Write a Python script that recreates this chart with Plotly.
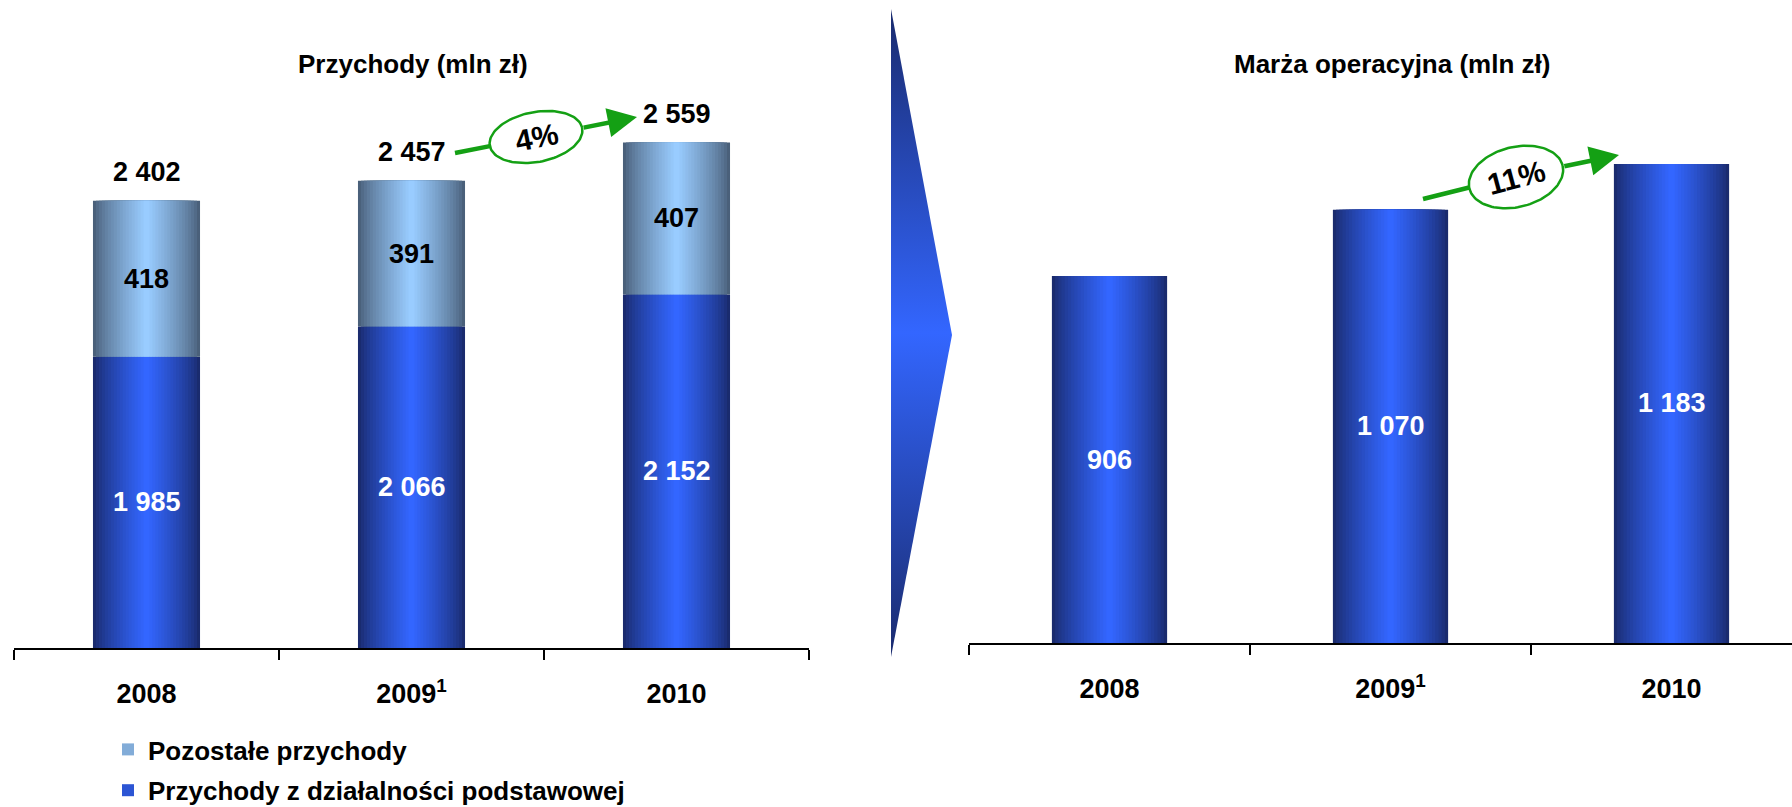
import numpy as np
import plotly.graph_objects as go

# dane
lata = ["2008", "2009<sup>1</sup>", "2010"]
przychody_podstawowe = [1985, 2066, 2152]
przychody_pozostale = [418, 391, 407]
przychody_razem = [2402, 2457, 2559]
marza_operacyjna = [906, 1070, 1183]
dynamika_przychodow = "4%"
dynamika_marzy = "11%"

W, H = 1792, 807
FONT = "Liberation Sans, Arial, sans-serif"
GREEN = "#14a014"

NAVY, BLUE = "#1a2b6e", "#3366ff"
SLATE, SKY = "#4a607a", "#99ccff"

# zakres osi lewej nie startuje od zera (jak w oryginale)
Y_LEFT_MIN = 1204


def hex_rgb(h):
    h = h.lstrip("#")
    return [int(h[i:i + 2], 16) for i in (0, 2, 4)]


def mix(c1, c2, t):
    a, b = hex_rgb(c1), hex_rgb(c2)
    r = [round(a[i] + (b[i] - a[i]) * t) for i in range(3)]
    return f"rgb({r[0]},{r[1]},{r[2]})"


def fmt(v):
    return f"{v:,}".replace(",", " ")


fig = go.Figure()

# pionowa strzałka (chevron) w tle, w osi pikselowej
fig.add_trace(go.Scatter(
    x=[891, 952, 891, 891], y=[9, 335, 657, 9],
    fill="toself", mode="lines", line=dict(width=0),
    fillgradient=dict(type="vertical",
                      colorscale=[[0, NAVY], [0.5, BLUE], [1, NAVY]]),
    xaxis="x3", yaxis="y3", showlegend=False, hoverinfo="skip"))

# słupki z gradientem poziomym - nakładane warstwy
N_LAYERS = 18
for k in range(N_LAYERS):
    frac = 1 - k / N_LAYERS
    t = (k / (N_LAYERS - 1)) ** 0.8
    c_blue = mix(NAVY, BLUE, t)
    c_light = mix(SLATE, SKY, t)
    leg = k == 11
    fig.add_trace(go.Bar(
        x=lata, y=przychody_podstawowe, width=0.404 * frac,
        marker=dict(color=c_blue, line_width=0),
        name="Przychody z działalności podstawowej", legendgroup="b",
        legendrank=2, showlegend=leg, xaxis="x", yaxis="y", hoverinfo="skip"))
    fig.add_trace(go.Bar(
        x=lata, y=przychody_pozostale, base=przychody_podstawowe, width=0.404 * frac,
        marker=dict(color=c_light, line_width=0),
        name="Pozostałe przychody", legendgroup="a",
        legendrank=1, showlegend=leg, xaxis="x", yaxis="y", hoverinfo="skip"))
    fig.add_trace(go.Bar(
        x=lata, y=marza_operacyjna, width=0.41 * frac,
        marker=dict(color=c_blue, line_width=0),
        showlegend=False, xaxis="x2", yaxis="y2", hoverinfo="skip"))

annotations = []
lab_font = dict(family=FONT, size=27, weight="bold")

# x jako indeks kategorii (tekst "2008" byłby czytany jako liczba)
for i in range(len(lata)):
    annotations.append(dict(
        x=i, y=(Y_LEFT_MIN + przychody_podstawowe[i]) / 2, xref="x", yref="y",
        text=fmt(przychody_podstawowe[i]), showarrow=False,
        font=dict(lab_font, color="white")))
    annotations.append(dict(
        x=i, y=przychody_podstawowe[i] + przychody_pozostale[i] / 2, xref="x", yref="y",
        text=fmt(przychody_pozostale[i]), showarrow=False,
        font=dict(lab_font, color="black")))
    annotations.append(dict(
        x=i, y=przychody_razem[i], xref="x", yref="y", yshift=29,
        text=fmt(przychody_razem[i]), showarrow=False,
        font=dict(lab_font, color="black")))
    annotations.append(dict(
        x=i, y=marza_operacyjna[i] / 2, xref="x2", yref="y2",
        text=fmt(marza_operacyjna[i]), showarrow=False,
        font=dict(lab_font, color="white")))

# tytuły
annotations.append(dict(x=413 / W, y=1 - 64 / H, xref="paper", yref="paper",
                        xanchor="center", yanchor="middle",
                        text="Przychody (mln zł)", showarrow=False,
                        font=dict(family=FONT, size=26, weight="bold", color="black")))
annotations.append(dict(x=1392 / W, y=1 - 64 / H, xref="paper", yref="paper",
                        xanchor="center", yanchor="middle",
                        text="Marża operacyjna (mln zł)", showarrow=False,
                        font=dict(family=FONT, size=26, weight="bold", color="black")))


# strzałki z elipsami (dynamika)
def growth_arrow(tail, tip, center, a, b, theta, txt, angle):
    tail, tip, center = np.array(tail, float), np.array(tip, float), np.array(center, float)
    u = (tip - tail) / np.linalg.norm(tip - tail)
    e1 = center - a * u
    e2 = center + a * u
    fig.add_trace(go.Scatter(
        x=[tail[0], e1[0]], y=[tail[1], e1[1]], mode="lines",
        line=dict(color=GREEN, width=4.5), xaxis="x3", yaxis="y3",
        showlegend=False, hoverinfo="skip"))
    th = np.radians(theta)
    tt = np.linspace(0, 2 * np.pi, 120)
    ex = center[0] + a * np.cos(tt) * np.cos(th) + b * np.sin(tt) * np.sin(th)
    ey = center[1] - a * np.cos(tt) * np.sin(th) + b * np.sin(tt) * np.cos(th)
    fig.add_trace(go.Scatter(
        x=ex, y=ey, mode="lines", fill="toself", fillcolor="white",
        line=dict(color=GREEN, width=2.5), xaxis="x3", yaxis="y3",
        showlegend=False, hoverinfo="skip"))
    annotations.append(dict(
        x=tip[0], y=tip[1], ax=e2[0], ay=e2[1], xref="x3", yref="y3",
        axref="x3", ayref="y3", text="", showarrow=True, arrowhead=2,
        arrowsize=1.3, arrowwidth=4.5, arrowcolor=GREEN, standoff=0))
    annotations.append(dict(
        x=center[0], y=center[1], xref="x3", yref="y3", text=txt,
        showarrow=False, textangle=angle,
        font=dict(family=FONT, size=30, weight="bold", color="black")))


growth_arrow((455, 153), (637, 117), (536, 137), 47, 25, 11, dynamika_przychodow, -11)
growth_arrow((1423, 199), (1619, 155), (1516, 177), 48, 30, 14, dynamika_marzy, -15)

axis_common = dict(
    showgrid=False, zeroline=False, showline=True, linecolor="black", linewidth=2,
    ticks="outside", ticklen=10, tickwidth=2, tickcolor="black",
    tickson="boundaries", type="category", ticklabelstandoff=21,
    tickfont=dict(family=FONT, size=27, weight="bold", color="black"),
    fixedrange=True)

fig.update_layout(
    width=W, height=H,
    margin=dict(l=0, r=0, t=0, b=0, autoexpand=False),
    paper_bgcolor="white", plot_bgcolor="rgba(0,0,0,0)",
    barmode="overlay",
    font=dict(family=FONT, color="black"),
    xaxis=dict(axis_common, domain=[14 / W, 809 / W], range=[-0.5, 2.5], anchor="y"),
    yaxis=dict(domain=[1 - 648 / H, 1 - 100 / H],
               range=[Y_LEFT_MIN, Y_LEFT_MIN + 548 / 0.373],
               visible=False, fixedrange=True, anchor="x"),
    xaxis2=dict(axis_common, domain=[969 / W, 1.0],
                range=[-0.5, -0.5 + (W - 969) / 281], anchor="y2"),
    yaxis2=dict(domain=[1 - 643 / H, 1 - 100 / H], range=[0, 543 / 0.405],
                visible=False, fixedrange=True, anchor="x2"),
    xaxis3=dict(domain=[0, 1], range=[0, W], visible=False, fixedrange=True, anchor="y3"),
    yaxis3=dict(domain=[0, 1], range=[H, 0], visible=False, fixedrange=True, anchor="x3"),
    legend=dict(x=108 / W, y=1 - 726 / H, xanchor="left", yanchor="top",
                traceorder="grouped", tracegroupgap=4,
                font=dict(family=FONT, size=26, weight="bold", color="black"),
                bgcolor="rgba(0,0,0,0)"),
    annotations=annotations,
    showlegend=True,
)

fig.write_html("out.html", config={"displayModeBar": False},
               post_script="document.body.style.margin='0px';")
